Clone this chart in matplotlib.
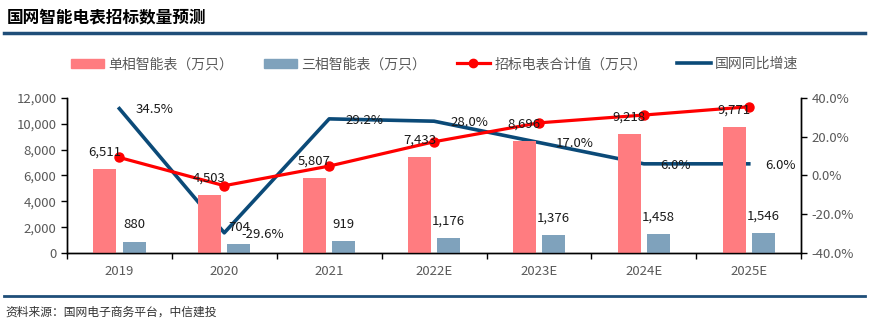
import matplotlib
matplotlib.use("Agg")
import matplotlib.pyplot as plt
from matplotlib.lines import Line2D
from matplotlib.patches import Patch
import numpy as np

plt.rcParams['font.family'] = ['Noto Sans CJK SC', 'DejaVu Sans']

years = ['2019', '2020', '2021', '2022E', '2023E', '2024E', '2025E']
single_phase = [6511, 4503, 5807, 7433, 8696, 9218, 9771]
three_phase = [880, 704, 919, 1176, 1376, 1458, 1546]
growth = [34.5, -29.6, 29.2, 28.0, 17.0, 6.0, 6.0]
total = [s + t for s, t in zip(single_phase, three_phase)]

C_SINGLE = '#FF7C80'
C_THREE = '#7FA2BC'
C_TOTAL = '#FF0000'
C_GROWTH = '#0B4A78'
C_TICK = '#595959'

fig = plt.figure(figsize=(8.69, 3.32), dpi=100)
ax = fig.add_axes([0.077, 0.238, 0.845, 0.467])
ax2 = ax.twinx()

x = np.arange(len(years))
w = 0.22
off = 0.14
ax.bar(x - off, single_phase, w, color=C_SINGLE, zorder=2)
ax.bar(x + off, three_phase, w, color=C_THREE, zorder=2)
ax.plot(x, total, color=C_TOTAL, lw=2.3, marker='o', ms=6.5, zorder=4)

for xi, v in zip(x - off, single_phase):
    ax.annotate(f'{v:,}', (xi, v), xytext=(0, 12), textcoords='offset points',
                ha='center', va='center', fontsize=9.5, color='#1a1a1a', zorder=6)
for xi, v in zip(x + off, three_phase):
    ax.annotate(f'{v:,}', (xi, v), xytext=(0, 12), textcoords='offset points',
                ha='center', va='center', fontsize=9.5, color='#1a1a1a', zorder=6)

ax2.plot(x, growth, color=C_GROWTH, lw=2.6, zorder=3)
for xi, g in zip(x, growth):
    ax2.annotate(f'{g:.1f}%', (xi, g), xytext=(12, -1), textcoords='offset points',
                 ha='left', va='center', fontsize=9.5, color='#1a1a1a')

ax.set_xlim(-0.5, len(years) - 0.5)
ax.set_ylim(0, 12000)
ax.set_yticks(range(0, 12001, 2000))
ax.set_yticklabels([f'{v:,}' for v in range(0, 12001, 2000)])
ax2.set_ylim(-40, 40)
ax2.set_yticks(range(-40, 41, 20))
ax2.set_yticklabels([f'{v:.1f}%' for v in range(-40, 41, 20)])

ax.set_xticks(x)
ax.set_xticklabels(years)
ax.set_xticks(np.arange(-0.5, len(years), 1), minor=True)
ax.tick_params(axis='x', which='major', length=0, pad=9, labelsize=9.5, labelcolor=C_TICK)
ax.tick_params(axis='x', which='minor', length=4, width=1, color='black')
ax.tick_params(axis='y', length=4, width=1, labelsize=9.5, labelcolor=C_TICK)
ax2.tick_params(axis='y', length=4, width=1, labelsize=9.5, labelcolor=C_TICK)

for a in (ax, ax2):
    a.spines['top'].set_visible(False)
    for s in ('left', 'right', 'bottom'):
        a.spines[s].set_color('black')
        a.spines[s].set_linewidth(1)

ax.set_zorder(ax2.get_zorder() + 1)
ax.patch.set_visible(False)

handles = [Patch(color=C_SINGLE), Patch(color=C_THREE),
           Line2D([], [], color=C_TOTAL, lw=2.3, marker='o', ms=6),
           Line2D([], [], color=C_GROWTH, lw=2.6)]
labels = ['单相智能表（万只）', '三相智能表（万只）', '招标电表合计值（万只）', '国网同比增速']
fig.legend(handles, labels, loc='center', bbox_to_anchor=(0.5, 0.807), ncol=4,
           frameon=False, fontsize=10, labelcolor=C_TICK, handlelength=2.4,
           handleheight=0.6, columnspacing=2.2, handletextpad=0.3)

fig.text(0.008, 0.948, '国网智能电表招标数量预测', fontsize=12, fontweight='bold',
         ha='left', va='center', color='black')
fig.add_artist(Line2D([0.005, 0.995], [0.9, 0.9], color='#1F4E79', lw=2.5,
                      transform=fig.transFigure))
fig.add_artist(Line2D([0.005, 0.995], [0.108, 0.108], color='#1F4E79', lw=2.0,
                      transform=fig.transFigure))
fig.text(0.006, 0.06, '资料来源：国网电子商务平台，中信建投', fontsize=8.5, style='italic',
         ha='left', va='center', color='#333333')

fig.savefig('out.png', dpi=100)
